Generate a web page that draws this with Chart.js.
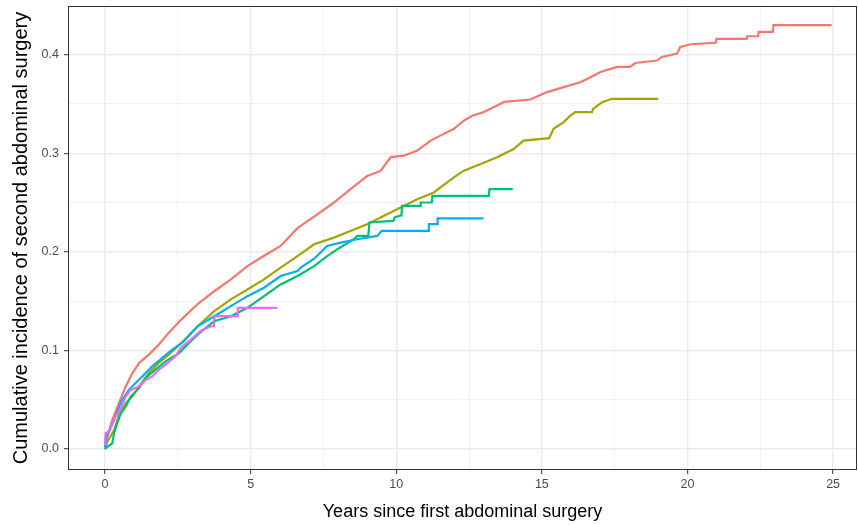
<!DOCTYPE html>
<html lang="en">
<head>
<meta charset="utf-8" />
<title>Cumulative incidence</title>
<script src="https://cdn.jsdelivr.net/npm/chart.js@4"></script>
<style>
  body { margin: 0; background: #fff; }
</style>
</head>
<body>
<canvas id="chart" width="858" height="525"></canvas>
<script>
// [years, cumulative incidence]
const red = [[0,0.004],[0.25,0.0295],[0.48,0.0465],[0.71,0.0634],[0.94,0.077],[1.17,0.0872],[1.51,0.0957],[1.85,0.106],[2.19,0.118],[2.61,0.131],[3.18,0.147],[3.75,0.16],[4.32,0.172],[4.89,0.1855],[5.46,0.196],[6.03,0.206],[6.61,0.224],[7.29,0.238],[7.86,0.25],[8.43,0.2636],[9.0,0.277],[9.46,0.282],[9.81,0.296],[10.26,0.2975],[10.72,0.3026],[11.18,0.3128],[11.63,0.3196],[11.98,0.3247],[12.32,0.333],[12.61,0.338],[13.01,0.3417],[13.46,0.3484],[13.7,0.352],[14.6,0.3545],[15.18,0.362],[15.75,0.367],[16.32,0.372],[16.67,0.377],[17.01,0.3824],[17.58,0.3875],[18.02,0.3875],[18.21,0.3915],[18.95,0.394],[19.12,0.3976],[19.64,0.401],[19.75,0.4078],[20.1,0.4105],[20.97,0.412],[20.99,0.416],[22.03,0.416],[22.05,0.4186],[22.42,0.4186],[22.44,0.423],[22.93,0.423],[22.95,0.43],[24.95,0.43]];
const olive = [[0,0],[0.08,0.0074],[0.31,0.019],[0.48,0.0346],[0.71,0.0465],[0.94,0.0532],[1.17,0.0634],[1.51,0.077],[1.85,0.0872],[2.19,0.0957],[2.61,0.107],[3.18,0.1245],[3.75,0.1398],[4.32,0.1517],[4.89,0.1618],[5.46,0.172],[6.03,0.1839],[6.61,0.1957],[7.18,0.2076],[7.86,0.2144],[8.43,0.2212],[9.0,0.228],[9.58,0.2365],[10.15,0.245],[10.72,0.2534],[11.29,0.2602],[11.75,0.2704],[11.98,0.2755],[12.32,0.2823],[12.9,0.289],[13.46,0.2959],[14.03,0.3043],[14.37,0.3128],[15.25,0.3152],[15.4,0.3247],[15.75,0.3315],[15.98,0.3382],[16.15,0.3417],[16.72,0.3417],[16.76,0.345],[17.07,0.3518],[17.4,0.3552],[19.0,0.3552]];
const green = [[0,0],[0.08,0.0023],[0.25,0.0058],[0.31,0.016],[0.42,0.026],[0.54,0.036],[0.71,0.043],[0.88,0.053],[1.17,0.0617],[1.39,0.072],[1.74,0.0804],[2.08,0.0889],[2.54,0.0973],[2.88,0.1075],[3.22,0.117],[3.75,0.1296],[4.32,0.1347],[4.89,0.1432],[5.46,0.155],[6.03,0.1669],[6.61,0.1754],[7.18,0.1855],[7.63,0.1957],[7.97,0.2025],[8.54,0.2127],[8.66,0.2161],[9.04,0.2161],[9.08,0.2297],[9.9,0.2314],[9.95,0.235],[10.18,0.237],[10.2,0.2466],[10.82,0.2466],[10.84,0.25],[11.22,0.25],[11.24,0.2568],[13.18,0.2568],[13.2,0.2636],[14.0,0.2636]];
const blue = [[0,0.002],[0.04,0.0125],[0.26,0.026],[0.42,0.038],[0.59,0.05],[0.82,0.06],[1.05,0.0669],[1.28,0.0736],[1.62,0.0838],[1.96,0.0923],[2.31,0.1008],[2.7,0.109],[3.18,0.1245],[3.75,0.1347],[4.32,0.1449],[4.89,0.155],[5.46,0.1636],[6.03,0.1754],[6.61,0.1805],[6.72,0.1839],[7.18,0.193],[7.63,0.2059],[8.09,0.2093],[8.66,0.2127],[9.35,0.2161],[9.5,0.2212],[11.1,0.2212],[11.12,0.228],[11.4,0.228],[11.42,0.234],[13.0,0.234]];
const pink = [[0,0.004],[0.02,0.016],[0.15,0.018],[0.36,0.0329],[0.54,0.0414],[0.71,0.0532],[0.88,0.06],[1.17,0.0634],[1.4,0.0702],[1.62,0.0736],[1.85,0.0804],[2.08,0.0855],[2.42,0.094],[2.61,0.103],[2.95,0.111],[3.29,0.12],[3.64,0.1245],[3.74,0.1245],[3.76,0.1347],[4.54,0.1347],[4.56,0.1432],[5.92,0.1432]];

const xTicks = [0, 2.5, 5, 7.5, 10, 12.5, 15, 17.5, 20, 22.5, 25];
const yTicks = [0, 0.05, 0.1, 0.15, 0.2, 0.25, 0.3, 0.35, 0.4];

const groups = [
  { name: 'Group 1', pts: red,   color: '#F8766D' },
  { name: 'Group 2', pts: olive, color: '#A3A500' },
  { name: 'Group 3', pts: green, color: '#00BF7D' },
  { name: 'Group 4', pts: blue,  color: '#00B0F6' },
  { name: 'Group 5', pts: pink,  color: '#E76BF3' }
];

const isMajorX = v => Math.abs(v % 5) < 1e-6;
const isMajorY = v => Math.abs(v * 10 - Math.round(v * 10)) < 1e-6;

// panel border drawn on top like ggplot's theme_bw
const panelBorder = {
  id: 'panelBorder',
  afterDraw(chart) {
    const { ctx, chartArea: a } = chart;
    ctx.save();
    ctx.strokeStyle = '#333333';
    ctx.lineWidth = 1;
    ctx.strokeRect(a.left + 0.5, a.top + 0.5, a.right - a.left - 1, a.bottom - a.top - 1);
    ctx.restore();
  }
};

new Chart(document.getElementById('chart'), {
  type: 'line',
  data: {
    datasets: groups.map((g, i) => ({
      label: g.name,
      data: g.pts.map(p => ({ x: p[0], y: p[1] })),
      borderColor: g.color,
      backgroundColor: g.color,
      borderWidth: 2.2,
      pointRadius: 0,
      tension: 0,
      fill: false,
      order: groups.length - i
    }))
  },
  options: {
    responsive: false,
    animation: false,
    layout: { padding: { left: 0, right: 1, top: 6, bottom: 0 } },
    plugins: {
      legend: { display: false },
      tooltip: { enabled: false }
    },
    scales: {
      x: {
        type: 'linear',
        min: -1.27,
        max: 25.82,
        afterBuildTicks: s => { s.ticks = xTicks.map(v => ({ value: v })); },
        afterFit: s => { s.height = 55; s.paddingLeft = 0; s.paddingRight = 0; },
        border: { display: false },
        grid: {
          color: '#EBEBEB',
          lineWidth: c => isMajorX(c.tick.value) ? 1.4 : 0.7,
          tickColor: c => isMajorX(c.tick.value) ? '#333333' : 'rgba(0,0,0,0)',
          tickWidth: 1,
          tickLength: 4
        },
        ticks: {
          autoSkip: false,
          maxRotation: 0,
          padding: 3,
          color: '#4D4D4D',
          font: { family: 'Liberation Sans', size: 12.5 },
          callback: v => isMajorX(v) ? String(v) : ''
        },
        title: {
          display: true,
          text: 'Years since first abdominal surgery',
          color: '#000000',
          font: { family: 'Liberation Sans', size: 18 },
          padding: { top: 0, bottom: 2 }
        }
      },
      y: {
        type: 'linear',
        min: -0.0213,
        max: 0.4493,
        afterBuildTicks: s => { s.ticks = yTicks.map(v => ({ value: v })); },
        afterFit: s => { s.width = 68; s.paddingTop = 0; s.paddingBottom = 0; },
        border: { display: false },
        grid: {
          color: '#EBEBEB',
          lineWidth: c => isMajorY(c.tick.value) ? 1.4 : 0.7,
          tickColor: c => isMajorY(c.tick.value) ? '#333333' : 'rgba(0,0,0,0)',
          tickWidth: 1,
          tickLength: 4
        },
        ticks: {
          autoSkip: false,
          padding: 5,
          color: '#4D4D4D',
          font: { family: 'Liberation Sans', size: 12.5 },
          callback: v => isMajorY(v) ? v.toFixed(1) : ''
        },
        title: {
          display: true,
          text: 'Cumulative incidence of second abdominal surgery',
          color: '#000000',
          font: { family: 'Liberation Sans', size: 20 },
          padding: { top: 9, bottom: 0 }
        }
      }
    }
  },
  plugins: [panelBorder]
});
</script>
</body>
</html>
